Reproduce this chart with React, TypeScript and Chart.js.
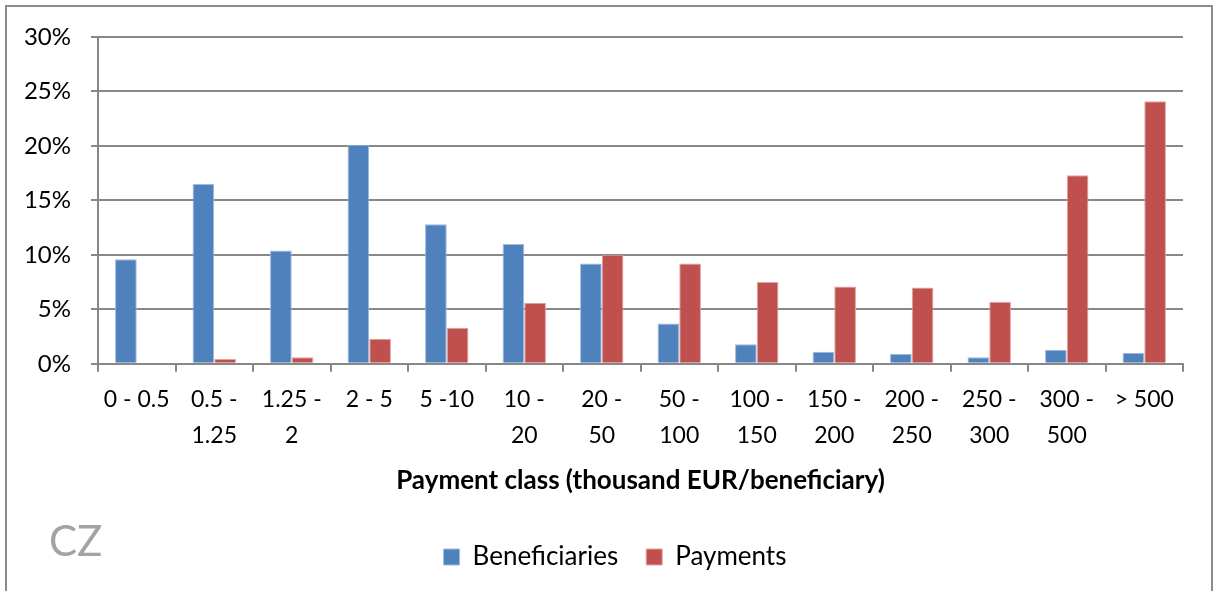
import { useEffect, useRef } from 'react';
import { Chart, registerables } from 'chart.js';

Chart.register(...registerables);

const categories: (string | string[])[] = [
  '0 - 0.5',
  ['0.5 -', '1.25'],
  ['1.25 -', '2'],
  '2 - 5',
  '5 -10',
  ['10 -', '20'],
  ['20 -', '50'],
  ['50 -', '100'],
  ['100 -', '150'],
  ['150 -', '200'],
  ['200 -', '250'],
  ['250 -', '300'],
  ['300 -', '500'],
  '> 500',
];

const beneficiaries = [9.6, 16.5, 10.4, 20.1, 12.8, 11.0, 9.2, 3.7, 1.8, 1.1, 0.9, 0.6, 1.3, 1.0];
const payments = [0.1, 0.45, 0.6, 2.3, 3.3, 5.6, 10.0, 9.2, 7.5, 7.1, 7.0, 5.7, 17.3, 24.1];

const yMin = 0;
const yMax = 30;
const yStep = 5;

const xTitle = 'Payment class (thousand EUR/beneficiary)';
const countryLabel = 'CZ';

const FONT = 'Lato, "Open Sans", sans-serif';
const GRID = '#878787';

export default function App() {
  const ref = useRef<HTMLCanvasElement>(null);

  useEffect(() => {
    if (!ref.current) return;
    const framePlugin = {
      id: 'frame',
      beforeDraw(chart: any) {
        const ctx = chart.ctx;
        ctx.save();
        ctx.fillStyle = '#ffffff';
        ctx.fillRect(0, 0, chart.width, chart.height);
        ctx.strokeStyle = '#8c8c8c';
        ctx.lineWidth = 2;
        ctx.strokeRect(6, 6, 1206, 640);
        ctx.restore();
      },
      afterDraw(chart: any) {
        const ctx = chart.ctx;
        ctx.save();
        ctx.fillStyle = '#a3a3a3';
        ctx.font = '42px ' + FONT;
        ctx.textBaseline = 'alphabetic';
        ctx.textAlign = 'left';
        ctx.fillText(countryLabel, 49, 556);
        ctx.restore();
      },
    };

    const chart = new Chart(ref.current, {
      type: 'bar',
      data: {
        labels: categories,
        datasets: [
          {
            label: 'Beneficiaries',
            data: beneficiaries,
            backgroundColor: '#4F81BD',
            borderColor: '#9dbbdf',
            borderWidth: 1,
            categoryPercentage: 0.56,
            barPercentage: 1,
          },
          {
            label: 'Payments',
            data: payments,
            backgroundColor: '#C0504D',
            borderColor: '#e2a3a1',
            borderWidth: 1,
            categoryPercentage: 0.56,
            barPercentage: 1,
          },
        ],
      },
      options: {
        responsive: false,
        animation: false,
        devicePixelRatio: 1,
        layout: { padding: { left: 12, right: 0, top: 37, bottom: 11 } },
        plugins: {
          tooltip: { enabled: false },
          legend: {
            position: 'bottom',
            labels: {
              boxWidth: 16,
              boxHeight: 16,
              padding: 28,
              color: '#000',
              font: { family: FONT, size: 26 },
            },
          },
        },
        scales: {
          x: {
            grid: {
              display: true,
              drawOnChartArea: false,
              drawTicks: true,
              tickLength: 8,
              color: GRID,
              lineWidth: 2,
              offset: true,
            },
            border: { display: true, color: GRID, width: 2 },
            ticks: {
              color: '#000',
              padding: 10,
              maxRotation: 0,
              autoSkip: false,
              font: { family: FONT, size: 23, lineHeight: 36 / 23 },
            },
            title: {
              display: true,
              text: xTitle,
              color: '#000',
              padding: { top: 1, bottom: 20 },
              font: { family: FONT, size: 26, weight: 'bold' },
            },
          },
          y: {
            min: yMin,
            max: yMax,
            afterFit: (s: any) => {
              s.width = 86;
            },
            grid: {
              color: GRID,
              lineWidth: 2,
              tickLength: 7,
              drawTicks: true,
            },
            border: { display: true, color: GRID, width: 2 },
            ticks: {
              stepSize: yStep,
              padding: 20,
              color: '#000',
              font: { family: FONT, size: 24 },
              callback: (v: any) => v + '%',
            },
          },
          yRight: {
            position: 'right',
            display: true,
            afterFit: (s: any) => {
              s.width = 35;
            },
            grid: { display: false, drawTicks: false },
            border: { display: false },
            ticks: { display: false },
          },
        },
      },
      plugins: [framePlugin],
    } as any);

    return () => chart.destroy();
  }, []);

  return (
    <div style={{ position: 'fixed', left: 0, top: 0, width: 1218, height: 591 }}>
      <canvas ref={ref} width={1218} height={591} style={{ display: 'block' }} />
    </div>
  );
}
